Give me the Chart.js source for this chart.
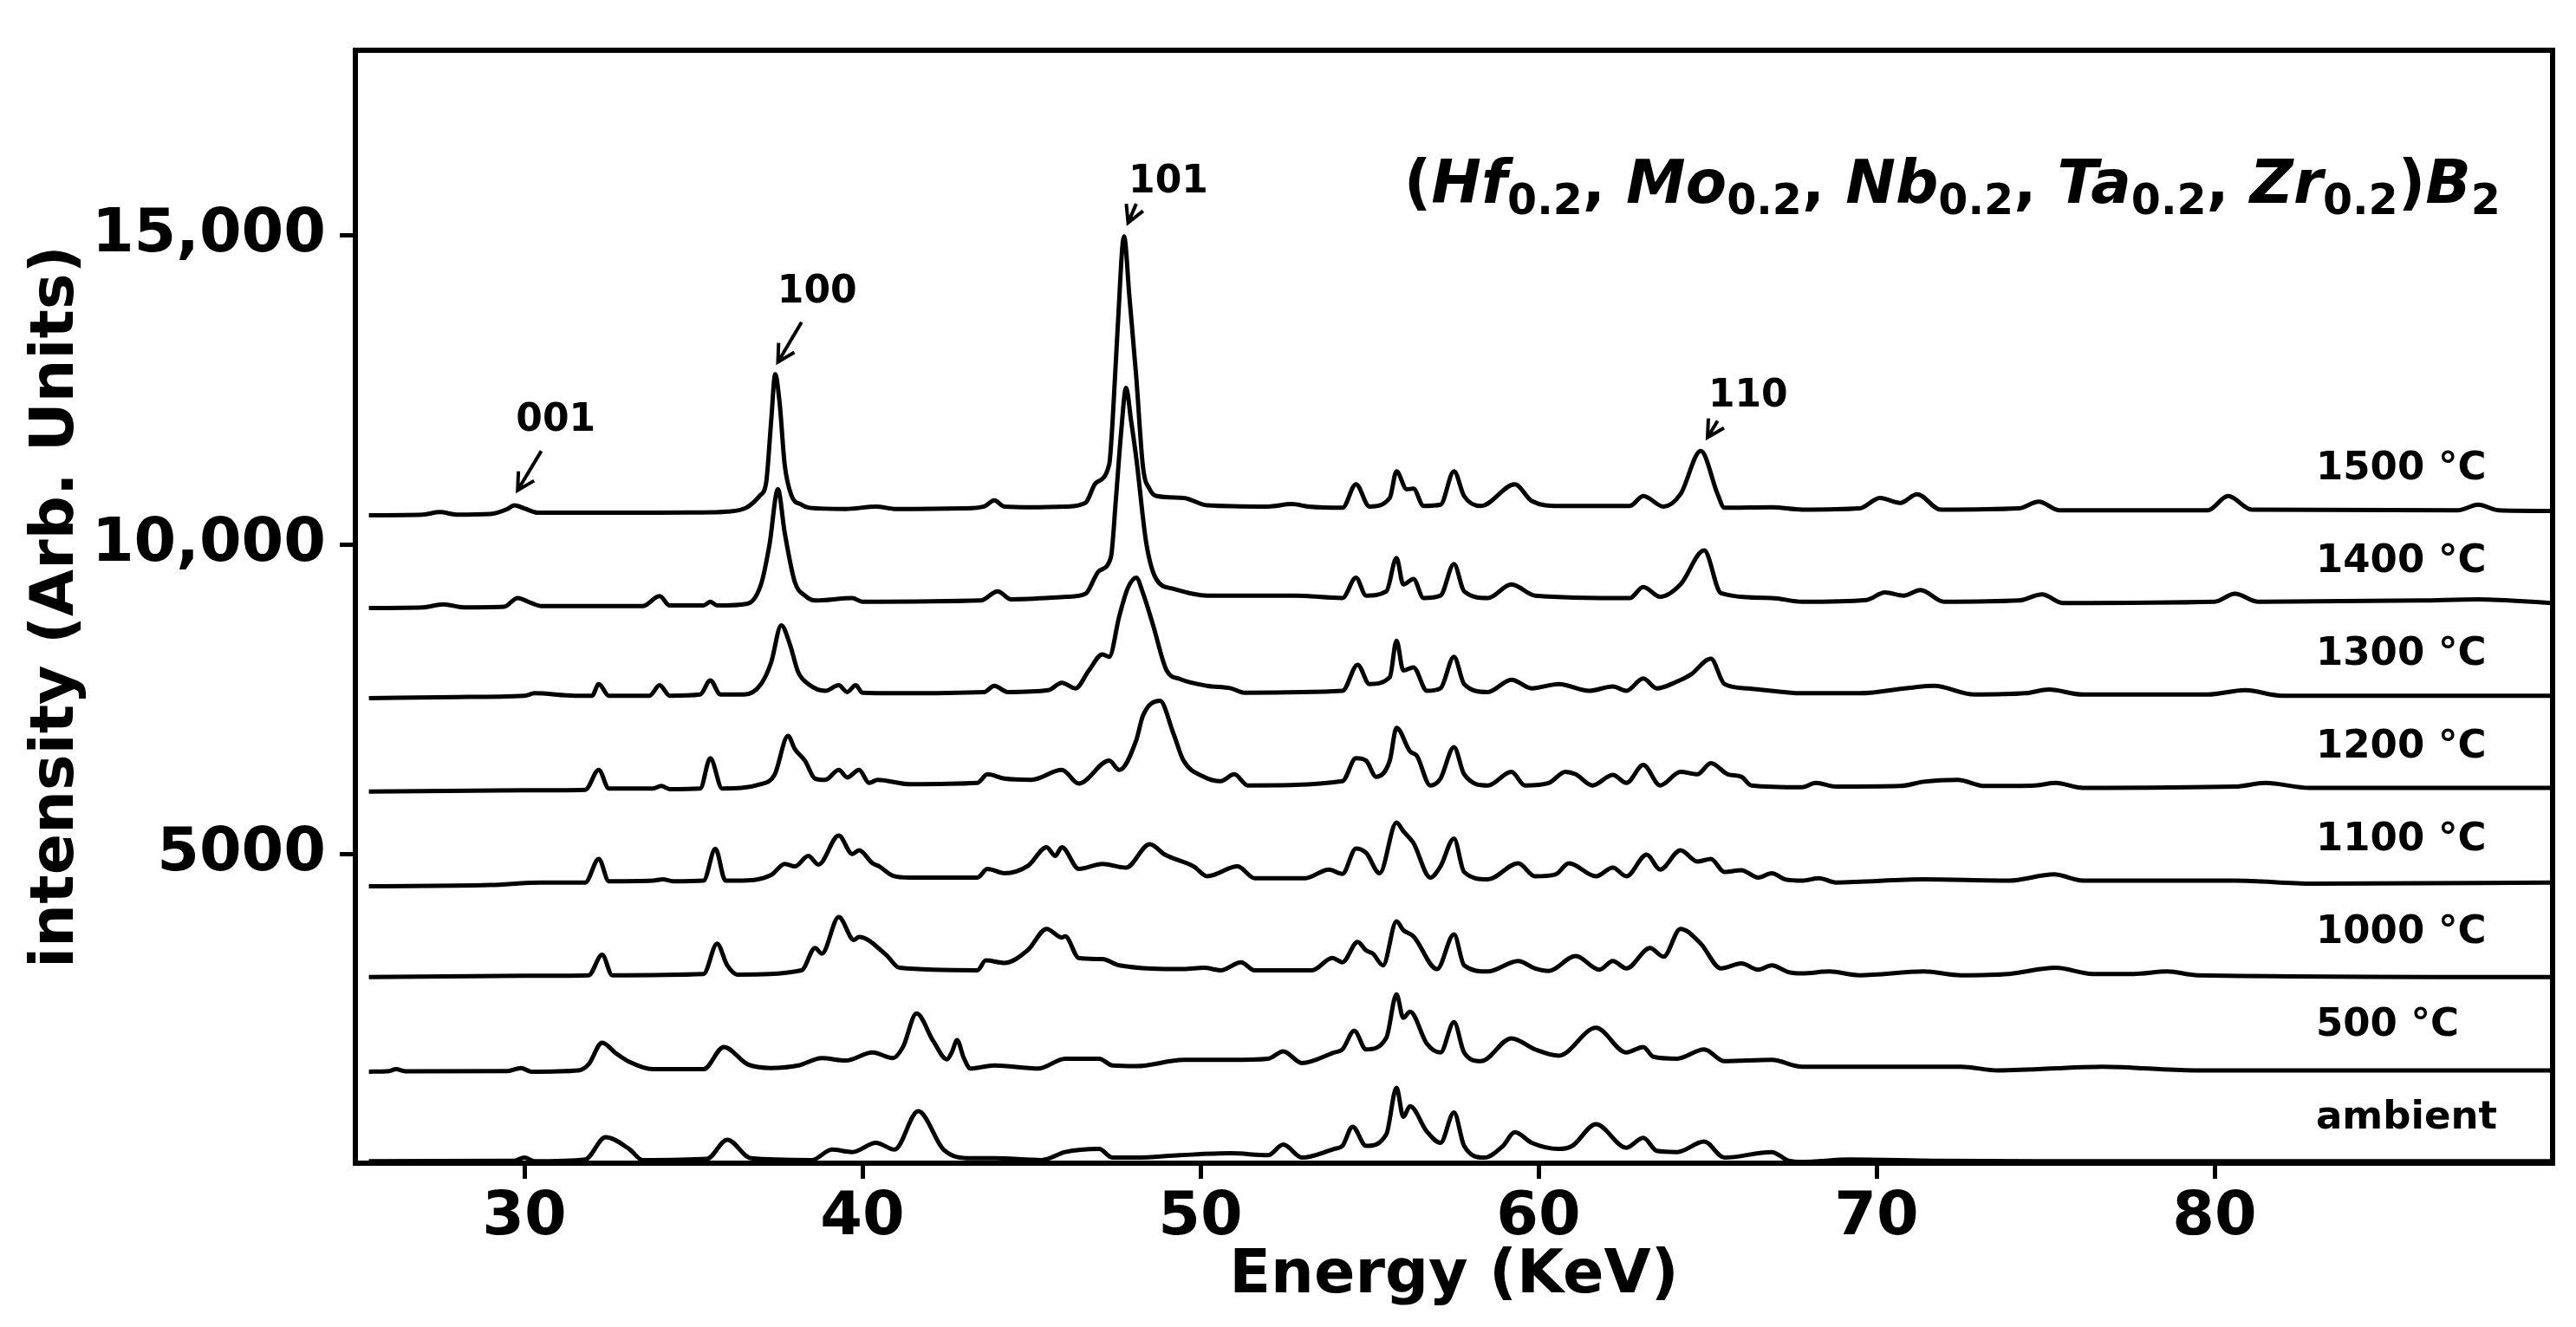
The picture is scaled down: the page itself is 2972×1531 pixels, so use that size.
<!DOCTYPE html>
<html>
<head>
<meta charset="utf-8">
<script src="https://cdn.jsdelivr.net/npm/chart.js@4.4.1/dist/chart.umd.min.js"></script>
<style>
  html, body { margin: 0; padding: 0; background: #ffffff; }
  #wrap { width: 2972px; height: 1531px; }
</style>
</head>
<body>
<div id="wrap"><canvas id="myChart" width="2972" height="1531"></canvas></div>
<script>
  // axis ticks
  const energyTicks = [30, 40, 50, 60, 70, 80];
  const intensityTicks = [5000, 10000, 15000];
  const intensityTickLabels = ['5000', '10,000', '15,000'];

  // one trace per anneal temperature, values as plotted (already stacked)
  const seriesNames = ['ambient', '500 °C', '1000 °C', '1100 °C', '1200 °C', '1300 °C', '1400 °C', '1500 °C'];
  const offsets = [0, 1500, 3000, 4500, 6000, 7500, 9000, 10500];

  const ambient = [[25.4, 30], [29.7, 40], [30.0, 90], [30.3, 30], [31.8, 60], [32.4, 420], [33.1, 230], [33.5, 50],
    [35.4, 70], [36.0, 380], [36.7, 80], [38.5, 50], [39.1, 220], [39.7, 180], [40.4, 330], [40.95, 220],
    [41.65, 840], [42.4, 220], [43.2, 80], [43.9, 80], [45.3, 50], [46.0, 180], [47.0, 230], [47.4, 90],
    [48.1, 90], [49.4, 130], [50.9, 160], [52.0, 130], [52.45, 300], [53.0, 90], [53.95, 230], [54.2, 280],
    [54.5, 590], [54.9, 280], [55.5, 470], [55.8, 1220], [56.0, 750], [56.2, 920], [56.7, 510], [57.1, 330],
    [57.5, 820], [57.8, 280], [58.4, 90], [58.95, 280], [59.3, 500], [59.8, 330], [60.6, 230], [61.0, 280],
    [61.7, 630], [62.6, 250], [63.1, 410], [63.5, 200], [64.1, 180], [64.9, 350], [65.5, 90], [66.9, 180],
    [67.4, 40], [67.8, 20], [69.2, 60], [71.7, 40], [74.7, 30], [90, 30]];

  const t500 = [[25.4, 1480], [26.0, 1490], [26.2, 1520], [26.5, 1485], [29.5, 1490], [29.9, 1540], [30.2, 1480],
    [31.6, 1500], [31.9, 1600], [32.3, 1950], [32.7, 1780], [33.1, 1640], [33.8, 1520], [35.3, 1520],
    [35.9, 1880], [36.6, 1600], [37.3, 1540], [38.1, 1580], [38.8, 1700], [39.5, 1660], [40.3, 1790],
    [40.9, 1700], [41.2, 1880], [41.6, 2420], [42.1, 1970], [42.5, 1680], [42.65, 1800], [42.8, 1990],
    [43.0, 1700], [43.2, 1530], [43.9, 1580], [45.2, 1530], [46.0, 1690], [47.0, 1690], [47.4, 1580],
    [48.1, 1570], [49.5, 1670], [50.9, 1670], [52.0, 1690], [52.45, 1810], [53.0, 1620], [53.95, 1790],
    [54.2, 1840], [54.55, 2140], [54.9, 1840], [55.5, 2030], [55.8, 2730], [56.0, 2350], [56.2, 2450],
    [56.7, 1930], [57.1, 1790], [57.5, 2280], [57.8, 1790], [58.3, 1650], [59.2, 2020], [59.9, 1840],
    [60.6, 1740], [61.7, 2190], [62.6, 1790], [63.1, 1880], [63.4, 1720], [64.1, 1690], [64.9, 1840],
    [65.5, 1650], [66.9, 1670], [67.8, 1560], [72.5, 1560], [73.6, 1500], [76.7, 1560], [79.4, 1500], [90, 1500]];

  const t1000 = [[25.4, 3010], [30.0, 3030], [31.9, 3040], [32.3, 3370], [32.6, 3040], [35.3, 3060], [35.7, 3550],
    [36.0, 3200], [36.3, 3050], [38.2, 3120], [38.6, 3480], [38.8, 3390], [39.3, 3980], [39.75, 3610],
    [39.9, 3660], [40.7, 3370], [41.1, 3160], [43.4, 3120], [43.65, 3280], [44.2, 3240], [44.9, 3450],
    [45.45, 3790], [45.9, 3650], [46.0, 3670], [46.4, 3320], [47.1, 3300], [47.6, 3200], [49.5, 3140],
    [50.1, 3160], [50.6, 3120], [51.2, 3250], [51.6, 3120], [53.3, 3120], [53.9, 3320], [54.2, 3250],
    [54.65, 3580], [54.9, 3440], [55.1, 3390], [55.4, 3200], [55.8, 3910], [56.0, 3770], [56.3, 3670],
    [57.0, 3140], [57.5, 3700], [57.8, 3200], [58.5, 3100], [59.4, 3270], [59.9, 3150], [60.3, 3110],
    [61.1, 3350], [61.8, 3130], [62.2, 3270], [62.6, 3150], [63.3, 3480], [63.7, 3340], [64.2, 3790],
    [64.8, 3550], [65.4, 3150], [66.0, 3230], [66.5, 3130], [66.9, 3200], [67.4, 3090], [67.8, 3070],
    [68.6, 3100], [69.5, 3040], [71.4, 3100], [72.5, 3040], [73.9, 3060], [75.3, 3160], [76.4, 3060],
    [77.6, 3060], [78.6, 3100], [79.5, 3040], [90, 3010]];

  const t1100 = [[25.4, 4480], [29.0, 4500], [30.5, 4540], [31.8, 4540], [32.2, 4920], [32.5, 4560], [33.8, 4570],
    [34.1, 4590], [34.4, 4560], [35.3, 4570], [35.65, 5085], [35.95, 4570], [36.3, 4570], [37.3, 4660],
    [37.7, 4840], [38.0, 4800], [38.4, 4970], [38.7, 4830], [39.3, 5300], [39.7, 5000], [39.9, 5060],
    [40.3, 4850], [40.5, 4800], [40.9, 4650], [41.4, 4620], [43.4, 4620], [43.7, 4760], [44.2, 4690],
    [44.9, 4810], [45.45, 5110], [45.7, 4970], [45.9, 5110], [46.4, 4760], [47.1, 4840], [47.8, 4780],
    [48.5, 5160], [48.95, 4990], [49.8, 4800], [50.2, 4640], [51.1, 4800], [51.6, 4610], [53.1, 4610],
    [53.8, 4750], [54.2, 4680], [54.6, 5090], [54.9, 5020], [55.3, 4690], [55.8, 5510], [56.0, 5370],
    [56.3, 5180], [56.8, 4620], [57.1, 4800], [57.5, 5250], [57.8, 4710], [58.5, 4590], [59.4, 4850],
    [59.9, 4640], [60.5, 4670], [60.9, 4850], [61.7, 4640], [62.2, 4780], [62.6, 4640], [63.2, 4990],
    [63.6, 4750], [64.2, 5060], [64.7, 4880], [65.1, 4920], [65.5, 4710], [66.0, 4740], [66.5, 4620],
    [66.9, 4690], [67.3, 4590], [67.8, 4570], [68.3, 4610], [68.8, 4540], [71.4, 4590], [73.9, 4570],
    [75.25, 4670], [76.1, 4570], [78.5, 4570], [80.6, 4570], [82.9, 4520], [90, 4540]];

  const t1200 = [[25.4, 6010], [30.0, 6030], [31.8, 6040], [32.2, 6360], [32.5, 6060], [33.8, 6060], [34.05, 6100],
    [34.3, 6050], [35.2, 6060], [35.5, 6550], [35.85, 6060], [37.0, 6130], [37.4, 6280], [37.8, 6910],
    [38.0, 6700], [38.3, 6510], [38.6, 6220], [38.9, 6200], [39.3, 6360], [39.55, 6240], [39.9, 6360],
    [40.2, 6150], [40.45, 6200], [41.4, 6130], [43.4, 6150], [43.7, 6290], [44.2, 6220], [45.0, 6200],
    [45.9, 6360], [46.4, 6140], [47.3, 6510], [47.6, 6360], [48.1, 6840], [48.3, 7240], [48.8, 7480],
    [49.2, 6950], [49.5, 6510], [50.1, 6250], [50.6, 6180], [51.0, 6290], [51.4, 6110], [54.2, 6180],
    [54.6, 6550], [54.9, 6510], [55.2, 6250], [55.6, 6510], [55.8, 7040], [56.2, 6660], [56.4, 6590],
    [56.8, 6110], [57.1, 6220], [57.5, 6730], [57.8, 6290], [58.5, 6110], [59.2, 6330], [59.6, 6110],
    [60.3, 6150], [60.8, 6330], [61.1, 6290], [61.6, 6110], [62.2, 6280], [62.6, 6150], [63.1, 6440],
    [63.6, 6110], [64.2, 6330], [64.7, 6290], [65.1, 6470], [65.6, 6290], [66.0, 6250], [66.3, 6110],
    [67.8, 6080], [68.2, 6150], [68.8, 6090], [70.7, 6100], [71.4, 6170], [72.4, 6200], [73.2, 6100],
    [74.7, 6110], [75.3, 6150], [76.1, 6070], [80.6, 6090], [81.5, 6150], [82.8, 6070], [90, 6070]];

  const t1300 = [[25.4, 7520], [28.0, 7540], [30.0, 7560], [30.3, 7600], [31.5, 7560], [32.0, 7560], [32.2, 7750],
    [32.5, 7560], [33.7, 7560], [34.0, 7730], [34.3, 7560], [35.2, 7580], [35.5, 7810], [35.8, 7580],
    [36.5, 7580], [37.0, 7750], [37.3, 8100], [37.6, 8700], [37.85, 8400], [38.1, 7940], [38.4, 7750],
    [38.9, 7640], [39.3, 7730], [39.55, 7620], [39.8, 7730], [40.0, 7610], [41.0, 7600], [43.6, 7620],
    [43.9, 7720], [44.3, 7620], [45.5, 7650], [45.9, 7770], [46.3, 7680], [46.7, 7970], [47.1, 8230],
    [47.3, 8190], [47.6, 8850], [47.85, 9300], [48.1, 9470], [48.3, 9220], [48.6, 8700], [49.0, 7970],
    [49.4, 7830], [50.2, 7720], [50.9, 7680], [51.3, 7610], [54.2, 7640], [54.65, 8060], [55.0, 7750],
    [55.6, 7860], [55.8, 8450], [56.0, 7970], [56.3, 8020], [56.7, 7640], [57.1, 7680], [57.5, 8190],
    [57.8, 7750], [58.5, 7620], [59.2, 7820], [59.8, 7680], [60.6, 7750], [61.5, 7640], [62.2, 7710],
    [62.6, 7640], [63.1, 7840], [63.5, 7680], [64.1, 7790], [64.5, 7900], [65.1, 8160], [65.5, 7750],
    [66.2, 7680], [67.8, 7600], [69.5, 7600], [71.0, 7690], [71.7, 7720], [72.9, 7580], [74.4, 7600],
    [75.1, 7660], [76.1, 7580], [79.8, 7580], [80.9, 7650], [82.0, 7560], [90, 7560]];

  const t1400 = [[25.4, 8980], [27.0, 8990], [27.6, 9040], [28.2, 8990], [29.4, 9000], [29.8, 9140], [30.2, 9060],
    [30.5, 9010], [33.5, 9010], [34.0, 9170], [34.3, 9020], [35.3, 9020], [35.5, 9080], [35.7, 9020],
    [36.6, 9050], [37.0, 9360], [37.25, 10000], [37.5, 10900], [37.7, 10200], [38.0, 9400], [38.3, 9180],
    [38.6, 9100], [39.7, 9140], [40.0, 9080], [43.5, 9100], [44.0, 9250], [44.4, 9120], [46.03, 9160],
    [46.6, 9210], [47.0, 9580], [47.35, 9800], [47.5, 10750], [47.65, 11800], [47.8, 12540], [47.95, 12000],
    [48.1, 11410], [48.4, 10020], [48.7, 9440], [49.2, 9290], [50.2, 9180], [52.8, 9180], [54.2, 9140],
    [54.6, 9470], [54.9, 9180], [55.5, 9250], [55.8, 9790], [56.0, 9360], [56.3, 9450], [56.6, 9140],
    [57.1, 9180], [57.5, 9690], [57.8, 9250], [58.5, 9140], [59.2, 9360], [59.9, 9180], [62.7, 9140],
    [63.1, 9320], [63.6, 9160], [64.2, 9360], [64.9, 9910], [65.4, 9220], [66.9, 9140], [67.8, 9080],
    [69.7, 9110], [70.25, 9230], [70.8, 9180], [71.3, 9270], [72.0, 9080], [74.2, 9100], [74.9, 9200],
    [75.5, 9060], [80.0, 9080], [80.6, 9210], [81.3, 9080], [86.1, 9100], [87.8, 9120], [90, 9060]];

  const t1500 = [[25.4, 10480], [27.0, 10490], [27.5, 10530], [28.0, 10490], [29.0, 10500], [29.5, 10580],
    [29.7, 10640], [30.0, 10590], [30.4, 10520], [32.0, 10520], [34.0, 10520], [35.0, 10525], [36.0, 10540],
    [36.56, 10600], [36.97, 10800], [37.15, 11000], [37.3, 12000], [37.42, 12760], [37.55, 12300],
    [37.7, 11300], [37.9, 10800], [38.2, 10650], [38.43, 10600], [39.5, 10580], [40.4, 10620], [41.0, 10580],
    [43.0, 10590], [43.6, 10620], [43.9, 10720], [44.2, 10620], [45.0, 10610], [46.03, 10620], [46.6, 10680],
    [46.9, 11000], [47.3, 11300], [47.4, 11990], [47.55, 13500], [47.74, 14990], [47.9, 14000], [48.1, 12720],
    [48.3, 11260], [48.5, 10900], [48.7, 10790], [49.5, 10760], [50.2, 10640], [52.0, 10620], [52.7, 10660],
    [53.2, 10620], [54.2, 10600], [54.6, 10980], [55.0, 10620], [55.6, 10760], [55.8, 11190], [56.1, 10900],
    [56.3, 10910], [56.6, 10630], [57.1, 10650], [57.5, 11190], [57.8, 10790], [58.3, 10630], [59.3, 10980],
    [59.8, 10710], [60.6, 10630], [62.7, 10630], [63.1, 10790], [63.7, 10620], [64.2, 10820], [64.8, 11520],
    [65.3, 10820], [65.5, 10600], [66.9, 10610], [67.8, 10570], [69.5, 10590], [70.1, 10760], [70.7, 10680],
    [71.2, 10820], [71.9, 10570], [74.2, 10590], [74.8, 10700], [75.4, 10560], [79.8, 10560], [80.4, 10790],
    [81.1, 10570], [87.2, 10560], [87.8, 10650], [88.4, 10560], [90, 10550]];

  const seriesData = [ambient, t500, t1000, t1100, t1200, t1300, t1400, t1500];

  // peak annotations (Miller indices) in data coordinates
  const peakLabels = ['001', '100', '101', '110'];
  const peakLabelPos = [[30.93, 12000], [38.66, 14077], [49.05, 15868], [66.2, 12395]];
  const peakArrowTail = [[30.5, 11518], [38.2, 13601], [48.1, 15517], [65.3, 12008]];
  const peakArrowTip = [[29.8, 10882], [37.5, 12958], [47.86, 15210], [65.0, 11737]];

  // temperature labels sit to the right, above each baseline
  const seriesLabelX = 83.0;
  const seriesLabelLift = 725;

  // compound formula, drawn piece by piece (n = upright, i = italic, s = subscript)
  const formulaParts = [['(', 'n'], ['Hf', 'i'], ['0.2', 's'], [', ', 'n'], ['Mo', 'i'], ['0.2', 's'], [', ', 'n'],
    ['Nb', 'i'], ['0.2', 's'], [', ', 'n'], ['Ta', 'i'], ['0.2', 's'], [', ', 'n'], ['Zr', 'i'], ['0.2', 's'],
    [')', 'n'], ['B', 'i'], ['2', 's']];
  const formulaAnchor = [88.46, 15535];

  const FONT = '"DejaVu Sans", "Liberation Sans", sans-serif';

  function drawArrow(ctx, x1, y1, x2, y2) {
    const ang = Math.atan2(y2 - y1, x2 - x1);
    const head = 22;
    ctx.beginPath();
    ctx.moveTo(x1, y1);
    ctx.lineTo(x2, y2);
    ctx.moveTo(x2 - head * Math.cos(ang - 0.5), y2 - head * Math.sin(ang - 0.5));
    ctx.lineTo(x2, y2);
    ctx.lineTo(x2 - head * Math.cos(ang + 0.5), y2 - head * Math.sin(ang + 0.5));
    ctx.stroke();
  }

  function drawFormula(ctx, xRight, yBase) {
    const fonts = {
      n: 'bold 69px ' + FONT,
      i: 'italic bold 69px ' + FONT,
      s: 'bold 49px ' + FONT
    };
    let total = 0;
    const widths = formulaParts.map(([t, k]) => {
      ctx.font = fonts[k];
      const w = ctx.measureText(t).width;
      total += w;
      return w;
    });
    let cx = xRight - total;
    ctx.textAlign = 'left';
    ctx.textBaseline = 'alphabetic';
    formulaParts.forEach(([t, k], i) => {
      ctx.font = fonts[k];
      ctx.fillText(t, cx, k === 's' ? yBase + 13 : yBase);
      cx += widths[i];
    });
  }

  const decorPlugin = {
    id: 'decor',
    afterDatasetsDraw(chart) {
      const { ctx, chartArea, scales } = chart;
      const x = scales.x, y = scales.y;
      ctx.save();
      ctx.fillStyle = '#000';
      ctx.strokeStyle = '#000';

      // frame round the plot
      ctx.lineWidth = 6;
      ctx.strokeRect(chartArea.left, chartArea.top, chartArea.right - chartArea.left, chartArea.bottom - chartArea.top);

      // temperature labels
      ctx.font = 'bold 45px ' + FONT;
      ctx.textAlign = 'left';
      ctx.textBaseline = 'middle';
      seriesNames.forEach((name, i) => {
        ctx.fillText(name, x.getPixelForValue(seriesLabelX), y.getPixelForValue(offsets[i] + seriesLabelLift));
      });

      // peak labels and arrows
      ctx.font = 'bold 44px ' + FONT;
      ctx.textAlign = 'center';
      peakLabels.forEach((lab, i) => {
        ctx.fillText(lab, x.getPixelForValue(peakLabelPos[i][0]), y.getPixelForValue(peakLabelPos[i][1]));
        ctx.lineWidth = 4;
        drawArrow(ctx,
          x.getPixelForValue(peakArrowTail[i][0]), y.getPixelForValue(peakArrowTail[i][1]),
          x.getPixelForValue(peakArrowTip[i][0]), y.getPixelForValue(peakArrowTip[i][1]));
      });

      drawFormula(ctx, x.getPixelForValue(formulaAnchor[0]), y.getPixelForValue(formulaAnchor[1]));
      ctx.restore();
    }
  };

  let ctx = document.getElementById('myChart').getContext('2d');

  let datasets = seriesData.map((pts, i) => ({
    label: seriesNames[i],
    data: pts.map(p => ({ x: p[0], y: p[1] })),
    borderColor: '#000000',
    backgroundColor: 'rgba(0,0,0,0)',
    borderWidth: 5,
    pointRadius: 0,
    cubicInterpolationMode: 'monotone',
    borderJoinStyle: 'round',
    fill: false
  }));

  let myChart = new Chart(ctx, {
    type: 'line',
    data: { datasets: datasets },
    options: {
      responsive: false,
      animation: false,
      devicePixelRatio: 1,
      layout: { padding: { left: 0, right: 27, top: 53, bottom: 0 } },
      plugins: {
        legend: { display: false },
        tooltip: { enabled: false }
      },
      scales: {
        x: {
          type: 'linear',
          min: 25,
          max: 90,
          afterBuildTicks: axis => { axis.ticks = energyTicks.map(v => ({ value: v })); },
          afterFit: axis => { axis.height = 189; },
          border: { display: false },
          grid: { display: true, drawOnChartArea: false, drawTicks: true, tickLength: 18, tickWidth: 5, tickColor: '#000' },
          ticks: { color: '#000', font: { family: FONT, size: 70, weight: 'bold' }, padding: 4, maxRotation: 0 },
          title: {
            display: true,
            text: 'Energy (KeV)',
            color: '#000',
            font: { family: FONT, size: 70, weight: 'bold' },
            padding: { top: 0, bottom: 16 }
          }
        },
        y: {
          type: 'linear',
          min: 0,
          max: 18000,
          afterBuildTicks: axis => { axis.ticks = intensityTicks.map(v => ({ value: v })); },
          afterFit: axis => { axis.width = 410; },
          border: { display: false },
          grid: { display: true, drawOnChartArea: false, drawTicks: true, tickLength: 18, tickWidth: 5, tickColor: '#000' },
          ticks: {
            color: '#000',
            font: { family: FONT, size: 70, weight: 'bold' },
            padding: 16,
            callback: v => intensityTickLabels[intensityTicks.indexOf(v)]
          },
          title: {
            display: true,
            text: 'intensity (Arb. Units)',
            color: '#000',
            font: { family: FONT, size: 70, weight: 'bold' },
            padding: { top: 24, bottom: 0 }
          }
        }
      }
    },
    plugins: [decorPlugin]
  });
</script>
</body>
</html>
